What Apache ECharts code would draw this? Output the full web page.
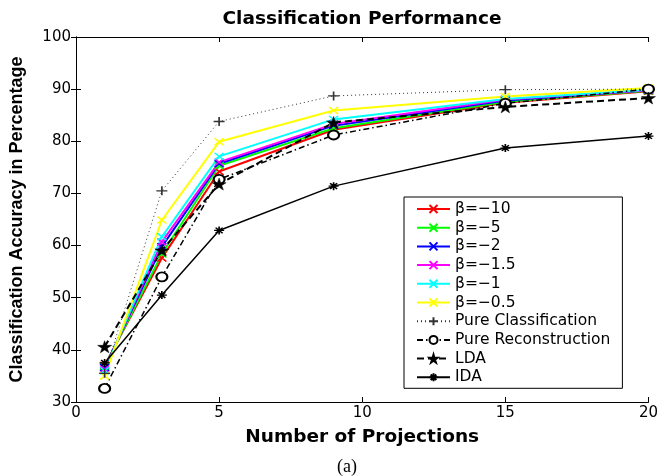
<!DOCTYPE html>
<html>
<head>
<meta charset="utf-8">
<script src="https://cdn.jsdelivr.net/npm/echarts@6/dist/echarts.min.js"></script>
<style>
  html, body { margin: 0; padding: 0; background: #fff; }
  #chart { width: 661px; height: 476px; }
</style>
</head>
<body>
<div id="chart"></div>
<script>
var projections = [1, 3, 5, 9, 15, 20];

var beta10 = [37.0, 57.6, 74.2, 82.2, 87.4, 89.6];
var beta5 = [36.8, 58.4, 75.3, 82.5, 87.6, 89.7];
var beta2 = [36.6, 59.8, 75.7, 83.0, 87.8, 89.8];
var beta15 = [36.3, 60.7, 76.0, 83.3, 88.0, 89.8];
var beta1 = [36.0, 61.7, 77.1, 84.2, 88.1, 89.9];
var beta05 = [35.0, 64.9, 79.9, 85.9, 88.6, 90.2];
var pureClass = [35.5, 70.5, 83.8, 88.7, 89.9, 90.0];
var pureRecon = [32.6, 54.0, 72.7, 81.2, 87.3, 90.0];
var lda = [40.6, 59.1, 71.8, 83.6, 86.6, 88.3];
var ida = [37.5, 50.5, 62.9, 71.4, 78.7, 81.0];

var xTicks = [0, 5, 10, 15, 20];
var yTicks = [30, 40, 50, 60, 70, 80, 90, 100];

var crossPath = 'path://M0,0L10,10M10,0L0,10';
var plusPath = 'path://M5,0L5,10M0,5L10,5';
var starPath = 'path://M50,0L61,35L98,35L68,57L79,91L50,70L21,91L32,57L2,35L39,35Z';
var asteriskPath = 'path://M5,0L5,10M0,5L10,5M1.5,1.5L8.5,8.5M8.5,1.5L1.5,8.5';

function pairs(vals) {
  return projections.map(function (x, i) {
    return [x, vals[i]];
  });
}

function line(name, vals, color, symbol, size, type, width, markWidth) {
  return {
    name: name,
    type: 'line',
    data: pairs(vals),
    symbol: symbol,
    symbolSize: size,
    showAllSymbol: true,
    animation: false,
    lineStyle: {color: color, width: width, type: type},
    itemStyle: {color: color, borderColor: color, borderWidth: markWidth},
    emphasis: {disabled: true}
  };
}

var tickFont = {fontFamily: 'DejaVu Sans', fontSize: 15, color: '#000'};

var chart = echarts.init(document.getElementById('chart'), null, {renderer: 'canvas'});
chart.setOption({
  backgroundColor: '#fff',
  animation: false,
  grid: {left: 73, right: 9, top: 37, bottom: 74, containLabel: false},
  legend: {
    orient: 'vertical',
    left: 404,
    top: 197,
    padding: [4, 12, 3, 12],
    itemWidth: 33,
    itemHeight: 10,
    itemGap: 2.7,
    backgroundColor: '#fff',
    borderColor: '#000',
    borderWidth: 1,
    borderRadius: 0,
    textStyle: {fontFamily: 'DejaVu Sans', fontSize: 15.5, color: '#000'},
    data: ['β=−10', 'β=−5', 'β=−2', 'β=−1.5', 'β=−1', 'β=−0.5',
      'Pure Classification', 'Pure Reconstruction', 'LDA', 'IDA']
  },
  xAxis: [{
    type: 'value',
    min: xTicks[0],
    max: xTicks[xTicks.length - 1],
    interval: 5,
    name: 'Number of Projections',
    nameLocation: 'middle',
    nameGap: 26,
    nameTextStyle: {fontFamily: 'DejaVu Sans', fontWeight: 'bold', fontSize: 18.5, color: '#000'},
    axisLine: {lineStyle: {color: '#000', width: 1}},
    axisTick: {inside: true, length: 5, lineStyle: {color: '#000'}},
    axisLabel: Object.assign({margin: 4}, tickFont),
    splitLine: {show: false}
  }, {
    type: 'value',
    position: 'top',
    min: xTicks[0],
    max: xTicks[xTicks.length - 1],
    interval: 5,
    axisLine: {lineStyle: {color: '#000', width: 1}},
    axisTick: {inside: true, length: 5, lineStyle: {color: '#000'}},
    axisLabel: {show: false},
    splitLine: {show: false}
  }],
  yAxis: [{
    type: 'value',
    min: yTicks[0],
    max: yTicks[yTicks.length - 1],
    interval: 10,
    name: 'Classification Accuracy in Percentage',
    nameLocation: 'middle',
    nameGap: 50,
    nameTextStyle: {fontFamily: 'Liberation Sans', fontWeight: 'bold', fontSize: 18, color: '#000'},
    axisLine: {show: true, lineStyle: {color: '#000', width: 1}},
    axisTick: {show: true, inside: true, length: 5, lineStyle: {color: '#000'}},
    axisLabel: Object.assign({margin: 5}, tickFont),
    splitLine: {show: false}
  }, {
    type: 'value',
    position: 'right',
    min: yTicks[0],
    max: yTicks[yTicks.length - 1],
    interval: 10,
    axisLine: {show: true, lineStyle: {color: '#000', width: 1}},
    axisTick: {show: true, inside: true, length: 5, lineStyle: {color: '#000'}},
    axisLabel: {show: false},
    splitLine: {show: false}
  }],
  graphic: [{
    type: 'text',
    x: 362,
    y: 19,
    style: {
      text: 'Classification Performance',
      align: 'center',
      verticalAlign: 'middle',
      fontFamily: 'DejaVu Sans',
      fontWeight: 'bold',
      fontSize: 18.5,
      fill: '#000'
    }
  }, {
    type: 'text',
    x: 347,
    y: 467,
    style: {
      text: '(a)',
      align: 'center',
      verticalAlign: 'middle',
      fontFamily: 'Liberation Serif',
      fontSize: 18,
      fill: '#000'
    }
  }],
  series: [
    line('β=−10', beta10, '#ff0000', crossPath, [9, 7], 'solid', 2, 1.5),
    line('β=−5', beta5, '#00ff00', crossPath, [9, 7], 'solid', 2, 1.5),
    line('β=−2', beta2, '#0000ff', crossPath, [9, 7], 'solid', 2, 1.5),
    line('β=−1.5', beta15, '#ff00ff', crossPath, [9, 7], 'solid', 2, 1.5),
    line('β=−1', beta1, '#00ffff', crossPath, [9, 7], 'solid', 2, 1.5),
    line('β=−0.5', beta05, '#ffff00', crossPath, [9, 7], 'solid', 2, 1.5),
    line('Pure Classification', pureClass, '#333', plusPath, [11, 9], [1, 3], 1, 1.5),
    line('Pure Reconstruction', pureRecon, '#000', 'emptyCircle', [11, 9], [6, 3, 1.5, 3], 1.5, 1.5),
    line('LDA', lda, '#000', starPath, [14, 12], [7, 4], 2, 0.5),
    line('IDA', ida, '#000', asteriskPath, [10, 8], 'solid', 1.5, 1.5)
  ]
});
</script>
</body>
</html>
